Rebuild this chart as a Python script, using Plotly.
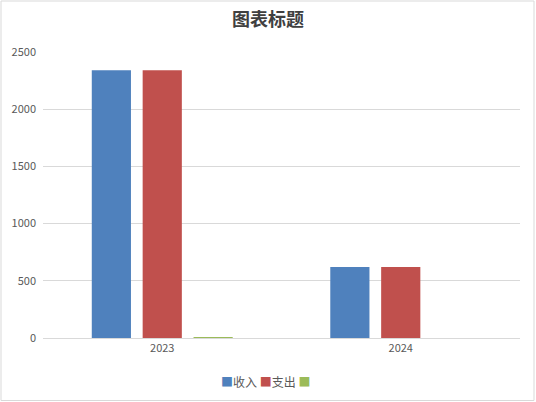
import plotly.graph_objects as go

years = ["2023", "2024"]
series_names = ["收入", "支出", ""]
income = [2340, 620]
expense = [2340, 620]
other = [8, 0]
colors = ["#4F81BD", "#C0504D", "#9BBB59"]

W, H = 536, 402
L, R, T, B = 43, 16, 52, 64

fig = go.Figure()
for name, vals, col in zip(series_names, [income, expense, other], colors):
    fig.add_trace(go.Bar(x=years, y=vals, name=name, marker_color=col,
                         marker_line_width=0))

pw, ph = W - L - R, H - T - B
# light grey frame around the whole chart
fig.add_shape(type="rect", xref="paper", yref="paper",
              x0=-(L - 1) / pw, x1=1 + (R - 2) / pw,
              y0=-(B - 1.5) / ph, y1=1 + (T - 1) / ph,
              line=dict(color="#D9D9D9", width=1), layer="below")

# compact legend like the office chart: coloured square + name
legend_txt = " ".join(
    '<span style="color:%s">■</span>%s' % (c, n) for n, c in zip(series_names, colors)
)
fig.add_annotation(text=legend_txt, xref="paper", yref="paper",
                   x=(265 - L) / pw, y=-(381 - (H - B)) / ph,
                   xanchor="center", yanchor="middle", showarrow=False,
                   font=dict(size=12, color="#595959"))

fig.update_layout(
    width=W, height=H,
    margin=dict(l=L, r=R, t=T, b=B),
    paper_bgcolor="white", plot_bgcolor="white",
    font=dict(family="Noto Sans CJK SC", size=11, color="#595959"),
    title=dict(text="<b>图表标题</b>", x=0.5, xanchor="center", y=1 - 20 / H,
               yanchor="middle", font=dict(size=18, color="#404040")),
    barmode="group", bargap=0.36, bargroupgap=0.23,
    showlegend=False,
    xaxis=dict(showgrid=False, showline=True, linecolor="#D9D9D9",
               ticks="", tickfont=dict(size=11)),
    yaxis=dict(range=[0, 2500], dtick=500, showgrid=True,
               gridcolor="#D9D9D9", zeroline=False, showline=False,
               ticks="", tickfont=dict(size=11), ticklabelstandoff=6),
)

fig.write_html("out.html", config={"displayModeBar": False},
               post_script="document.body.style.margin='0';")
